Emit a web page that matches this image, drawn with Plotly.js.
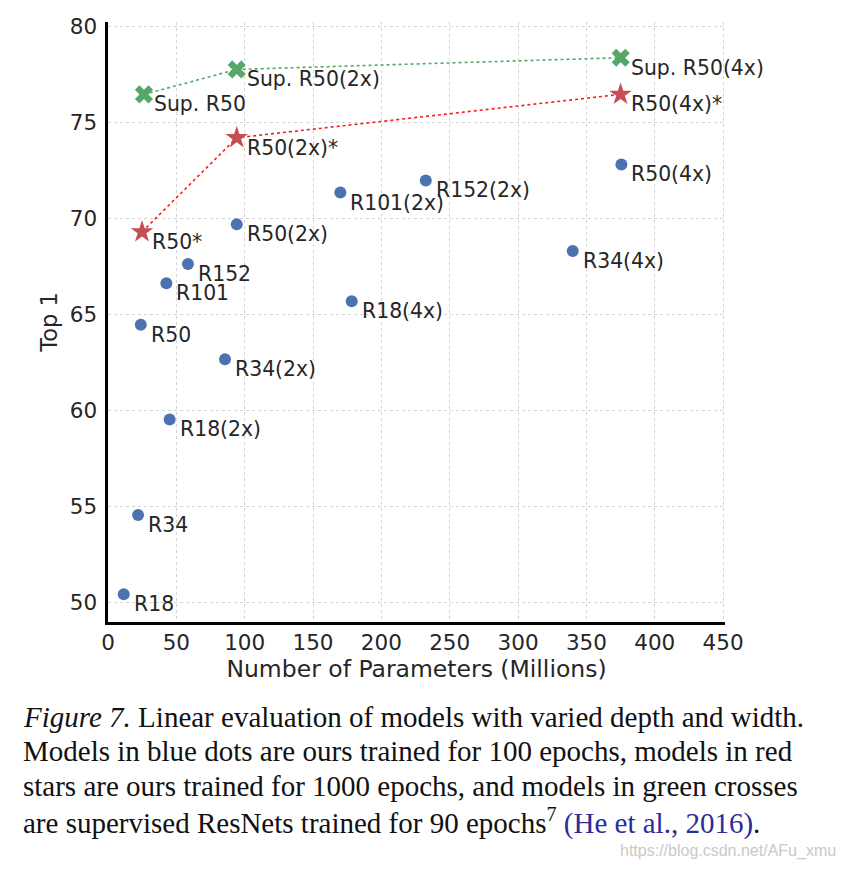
<!DOCTYPE html>
<html>
<head>
<meta charset="utf-8">
<script src="https://cdn.plot.ly/plotly-3.0.1.min.js"></script>
<style>html,body{margin:0;padding:0;background:#fff;}#chart{width:842px;height:869px;}</style>
</head>
<body>
<div id="chart"></div>
<script>
// Blue dots: ours, 100 epochs
const blueNames = ["R18","R34","R50","R101","R152","R18(2x)","R34(2x)","R50(2x)","R101(2x)","R152(2x)","R18(4x)","R34(4x)","R50(4x)"];
const blueParams = [11.5, 22.0, 24.0, 42.7, 58.5, 45.1, 85.6, 94.2, 170.0, 232.5, 178.3, 340.0, 375.6];
const blueTop1 = [50.44, 54.57, 64.48, 66.64, 67.64, 59.55, 62.68, 69.71, 71.37, 72.0, 65.71, 68.32, 72.83];

// Red stars: ours, 1000 epochs
const redNames = ["R50*","R50(2x)*","R50(4x)*"];
const redParams = [24.9, 94.2, 375.0];
const redTop1 = [69.32, 74.22, 76.48];

// Green crosses: supervised
const greenNames = ["Sup. R50","Sup. R50(2x)","Sup. R50(4x)"];
const greenParams = [26.3, 94.2, 375.1];
const greenTop1 = [76.48, 77.78, 78.39];

const xTicks = [0,50,100,150,200,250,300,350,400,450];
const yTicks = [50,55,60,65,70,75,80];

const captionLines = [
  "<i>Figure 7.</i> Linear evaluation of models with varied depth and width.",
  "Models in blue dots are ours trained for 100 epochs, models in red",
  "stars are ours trained for 1000 epochs, and models in green crosses",
  "are supervised ResNets trained for 90 epochs<sup>7</sup> <span style=\"color:#2b2b9a\">(He et al., 2016)</span>."
];
const watermark = "https://blog.csdn.net/AFu_xmu";

const W = 842, H = 869;
const plotL = 108, plotT = 22, plotW = 617, plotH = 599.7;
function pxX(x){ return (x - plotL) / plotW; }
function pxY(y){ return 1 - (y - plotT) / plotH; }

const textColor = "#262626";
const labelFont = {family: "DejaVu Sans", size: 20.4, color: textColor};

const traces = [
  {x: redParams, y: redTop1, mode: "lines", line: {color: "#ff1a1a", width: 1.6, dash: "dot"}, hoverinfo: "skip"},
  {x: greenParams, y: greenTop1, mode: "lines", line: {color: "#55A868", width: 1.6, dash: "dot"}, hoverinfo: "skip"},
  {x: blueParams, y: blueTop1, mode: "markers", marker: {symbol: "circle", size: 12, color: "#4C72B0"}},
  {x: redParams, y: redTop1, mode: "markers", marker: {symbol: "star", size: 17, color: "#C44E52"}},
  {x: greenParams, y: greenTop1, mode: "markers", marker: {symbol: "x", size: 16, color: "#55A868"}}
];

const annotations = [];
function addLabels(names, xs, ys){
  for (let i = 0; i < names.length; i++){
    annotations.push({x: xs[i], y: ys[i], xref: "x", yref: "y", text: names[i], showarrow: false,
      xanchor: "left", yanchor: "top", xshift: 9, yshift: 3, borderpad: 0, font: labelFont});
  }
}
addLabels(blueNames, blueParams, blueTop1);
addLabels(redNames, redParams, redTop1);
addLabels(greenNames, greenParams, greenTop1);

const capY = [717, 751, 786, 821];
for (let i = 0; i < captionLines.length; i++){
  annotations.push({xref: "paper", yref: "paper", x: pxX(21), y: pxY(capY[i]), xanchor: "left", yanchor: "middle",
    text: captionLines[i], showarrow: false, align: "left",
    font: {family: "Liberation Serif", size: 29, color: "#111111"}});
}
annotations.push({xref: "paper", yref: "paper", x: pxX(838), y: pxY(851), xanchor: "right", yanchor: "middle",
  text: watermark, showarrow: false, font: {family: "Liberation Sans", size: 16, color: "#c9c9c9"}});

const layout = {
  width: W, height: H,
  margin: {l: plotL, r: W - plotL - plotW, t: plotT, b: H - plotT - plotH, pad: 0},
  paper_bgcolor: "#ffffff", plot_bgcolor: "#ffffff",
  showlegend: false,
  xaxis: {
    range: [0, 451.4], tickvals: xTicks, ticktext: xTicks.map(String),
    showgrid: true, gridcolor: "#d4d4d4", griddash: "dot", gridwidth: 1,
    zeroline: false, showline: true, linecolor: "#000000", linewidth: 2.6,
    ticks: "", ticklabelstandoff: 0,
    tickfont: {family: "DejaVu Sans", size: 21.5, color: textColor},
    title: {text: "Number of Parameters (Millions)", font: {family: "DejaVu Sans", size: 23.5, color: textColor}, standoff: 1}
  },
  yaxis: {
    range: [49.0, 80.25], tickvals: yTicks, ticktext: yTicks.map(String),
    showgrid: true, gridcolor: "#d4d4d4", griddash: "dot", gridwidth: 1,
    zeroline: false, showline: true, linecolor: "#000000", linewidth: 2.6,
    ticks: "", ticklabelstandoff: 4,
    tickfont: {family: "DejaVu Sans", size: 21.5, color: textColor},
    title: {text: "Top 1", font: {family: "DejaVu Sans", size: 22.5, color: textColor}, standoff: 6}
  },
  annotations: annotations
};

Plotly.newPlot("chart", traces, layout, {staticPlot: true, displayModeBar: false});
</script>
</body>
</html>
